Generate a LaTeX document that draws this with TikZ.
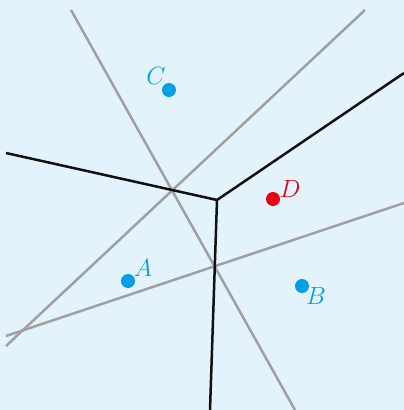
\documentclass[tikz,border=0pt]{standalone}
\definecolor{bgblue}{HTML}{E3F3FC}
\definecolor{dotblue}{HTML}{00A0E9}
\definecolor{dotred}{HTML}{E60012}
\definecolor{linegray}{HTML}{A0A0A0}
\definecolor{lineblack}{HTML}{111111}
\tikzset{
  bisector/.style={draw=linegray, line width=2.5pt},
  celledge/.style={draw=lineblack, line width=2.5pt},
  pt/.style={circle, inner sep=0pt, minimum size=14pt},
  lbl/.style={inner sep=0pt, font=\fontsize{23}{26}\selectfont}
}
\begin{document}
\begin{tikzpicture}[x=1pt,y=-1pt]
\fill[bgblue] (0,0) rectangle (404,410);
\useasboundingbox (0,0) rectangle (404,410);
% coordinates
\coordinate (g1a) at (71,10);
\coordinate (g1b) at (295,410);
\coordinate (g2a) at (6,346);
\coordinate (g2b) at (365,10);
\coordinate (g3a) at (6,336);
\coordinate (g3b) at (404,203);
\coordinate (bl) at (6,153);
\coordinate (V) at (217,200);
\coordinate (br) at (404,73);
\coordinate (bb) at (210,410);
% gray lines
\draw[bisector] (g1a) -- (g1b);
\draw[bisector] (g2a) -- (g2b);
\draw[bisector] (g3a) -- (g3b);
% black lines
\draw[celledge, line join=miter] (bl) -- (V) -- (br);
\draw[celledge] (V) -- (bb);
% points
\node[pt, fill=dotblue] (C) at (169,90) {};
\node[pt, fill=dotred] (D) at (273,199) {};
\node[pt, fill=dotblue] (A) at (128,281) {};
\node[pt, fill=dotblue] (B) at (302,286) {};
\node[lbl, text=dotblue] (Cl) at (156,76) {$C$};
\node[lbl, text=dotred] (Dl) at (290,189) {$D$};
\node[lbl, text=dotblue] (Al) at (143,268) {$A$};
\node[lbl, text=dotblue] (Bl) at (316,296) {$B$};
\end{tikzpicture}
\end{document}
